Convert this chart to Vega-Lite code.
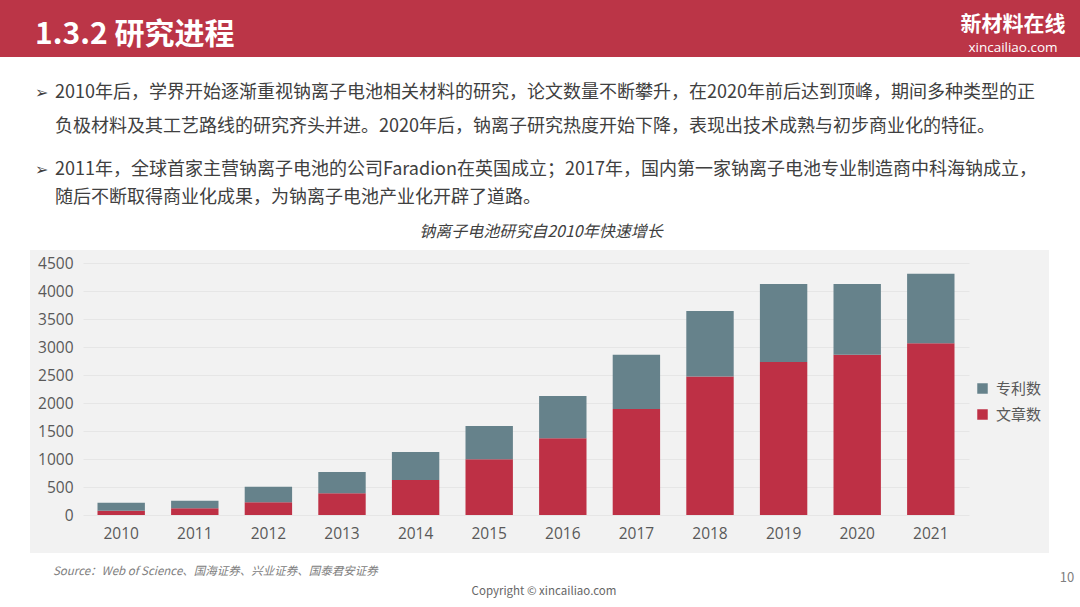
{
  "$schema": "https://vega.github.io/schema/vega-lite/v6.json",
  "width": 886,
  "height": 252,
  "autosize": {"type": "none"},
  "padding": {"left": 83, "top": 263, "right": 111, "bottom": 92},
  "background": "#F2F2F2",
  "datasets": {
    "research": [
      {"year": "2010", "type": "文章数", "count": 77},
      {"year": "2010", "type": "专利数", "count": 143},
      {"year": "2011", "type": "文章数", "count": 120},
      {"year": "2011", "type": "专利数", "count": 136},
      {"year": "2012", "type": "文章数", "count": 227},
      {"year": "2012", "type": "专利数", "count": 279},
      {"year": "2013", "type": "文章数", "count": 388},
      {"year": "2013", "type": "专利数", "count": 381},
      {"year": "2014", "type": "文章数", "count": 626},
      {"year": "2014", "type": "专利数", "count": 500},
      {"year": "2015", "type": "文章数", "count": 996},
      {"year": "2015", "type": "专利数", "count": 595},
      {"year": "2016", "type": "文章数", "count": 1371},
      {"year": "2016", "type": "专利数", "count": 756},
      {"year": "2017", "type": "文章数", "count": 1895},
      {"year": "2017", "type": "专利数", "count": 965},
      {"year": "2018", "type": "文章数", "count": 2472},
      {"year": "2018", "type": "专利数", "count": 1169},
      {"year": "2019", "type": "文章数", "count": 2730},
      {"year": "2019", "type": "专利数", "count": 1394},
      {"year": "2020", "type": "文章数", "count": 2860},
      {"year": "2020", "type": "专利数", "count": 1264},
      {"year": "2021", "type": "文章数", "count": 3069},
      {"year": "2021", "type": "专利数", "count": 1239}
    ],
    "one": [{}]
  },
  "layer": [
    {
      "data": {"name": "one"},
      "mark": {"type": "rect", "x": -83, "x2": 997, "y": -263, "y2": -13, "fill": "white"}
    },
    {
      "data": {"name": "one"},
      "mark": {"type": "rect", "x": -83, "x2": 997, "y": 290, "y2": 344, "fill": "white"}
    },
    {
      "data": {"name": "one"},
      "mark": {"type": "rect", "x": -83, "x2": -53, "y": -13, "y2": 290, "fill": "white"}
    },
    {
      "data": {"name": "one"},
      "mark": {"type": "rect", "x": 966, "x2": 997, "y": -13, "y2": 290, "fill": "white"}
    },
    {
      "data": {"name": "one"},
      "mark": {"type": "rect", "x": -83, "x2": 997, "y": -263, "y2": -206, "fill": "#BB3547"}
    },
    {
      "data": {"name": "one"},
      "mark": {"type": "text", "x": -48, "y": -228, "text": "1.3.2 研究进程", "align": "left", "baseline": "middle",
        "font": "Noto Sans CJK SC", "fontSize": 30, "fontWeight": "bold", "color": "white"}
    },
    {
      "data": {"name": "one"},
      "mark": {"type": "text", "x": 930, "y": -238, "text": "新材料在线", "align": "center", "baseline": "middle",
        "font": "Noto Sans CJK SC", "fontSize": 21, "fontWeight": "bold", "color": "white"}
    },
    {
      "data": {"name": "one"},
      "mark": {"type": "text", "x": 930, "y": -215, "text": "xincailiao.com", "align": "center", "baseline": "middle",
        "font": "Open Sans", "fontSize": 13.5, "color": "white"}
    },
    {
      "data": {"name": "one"},
      "mark": {"type": "text", "x": -48, "y": -170, "text": "➢", "align": "left", "baseline": "middle",
        "font": "DejaVu Sans", "fontSize": 16, "color": "#404040"}
    },
    {
      "data": {"name": "one"},
      "mark": {"type": "text", "x": -28, "y": -170, "text": "2010年后，学界开始逐渐重视钠离子电池相关材料的研究，论文数量不断攀升，在2020年前后达到顶峰，期间多种类型的正",
        "align": "left", "baseline": "middle", "font": "Noto Sans CJK SC", "fontSize": 18, "color": "#404040"}
    },
    {
      "data": {"name": "one"},
      "mark": {"type": "text", "x": -28, "y": -136, "text": "负极材料及其工艺路线的研究齐头并进。2020年后，钠离子研究热度开始下降，表现出技术成熟与初步商业化的特征。",
        "align": "left", "baseline": "middle", "font": "Noto Sans CJK SC", "fontSize": 18, "color": "#404040"}
    },
    {
      "data": {"name": "one"},
      "mark": {"type": "text", "x": -48, "y": -93, "text": "➢", "align": "left", "baseline": "middle",
        "font": "DejaVu Sans", "fontSize": 16, "color": "#404040"}
    },
    {
      "data": {"name": "one"},
      "mark": {"type": "text", "x": -28, "y": -93, "text": "2011年，全球首家主营钠离子电池的公司Faradion在英国成立；2017年，国内第一家钠离子电池专业制造商中科海钠成立，",
        "align": "left", "baseline": "middle", "font": "Noto Sans CJK SC", "fontSize": 18, "color": "#404040"}
    },
    {
      "data": {"name": "one"},
      "mark": {"type": "text", "x": -28, "y": -65, "text": "随后不断取得商业化成果，为钠离子电池产业化开辟了道路。",
        "align": "left", "baseline": "middle", "font": "Noto Sans CJK SC", "fontSize": 18, "color": "#404040"}
    },
    {
      "data": {"name": "one"},
      "mark": {"type": "text", "x": 458, "y": -31, "text": "钠离子电池研究自2010年快速增长", "align": "center", "baseline": "middle",
        "font": "Noto Sans CJK SC", "fontSize": 16, "fontStyle": "italic", "color": "#404040"}
    },
    {
      "data": {"name": "one"},
      "mark": {"type": "text", "x": -30, "y": 309, "text": "Source：Web of Science、国海证券、兴业证券、国泰君安证券", "align": "left", "baseline": "middle",
        "font": "Noto Sans CJK SC", "fontSize": 11.5, "fontStyle": "italic", "color": "#808080"}
    },
    {
      "data": {"name": "one"},
      "mark": {"type": "text", "x": 461, "y": 329, "text": "Copyright © xincailiao.com", "align": "center", "baseline": "middle",
        "font": "Noto Sans CJK SC", "fontSize": 11.5, "color": "#666666"}
    },
    {
      "data": {"name": "one"},
      "mark": {"type": "text", "x": 984, "y": 315, "text": "10", "align": "center", "baseline": "middle",
        "font": "Noto Sans CJK SC", "fontSize": 13, "color": "#808080"}
    },
    {
      "data": {"name": "research"},
      "mark": {"type": "bar"},
      "encoding": {
        "x": {
          "field": "year",
          "type": "ordinal",
          "scale": {"paddingInner": 0.356, "paddingOuter": 0.197},
          "axis": {"title": null, "labelAngle": 0, "domain": false, "ticks": false, "grid": false,
            "labelPadding": 11, "labelFont": "Open Sans", "labelFontSize": 15.5, "labelColor": "#595959"}
        },
        "y": {
          "field": "count",
          "type": "quantitative",
          "stack": "zero",
          "scale": {"domain": [0, 4500], "nice": false},
          "axis": {"title": null, "values": [0, 500, 1000, 1500, 2000, 2500, 3000, 3500, 4000, 4500], "format": "d",
            "domain": false, "ticks": false, "labelPadding": 10, "labelFont": "Open Sans", "labelFontSize": 15.5,
            "labelColor": "#595959", "gridColor": "#E6E6E6", "gridWidth": 1}
        },
        "color": {
          "field": "type",
          "type": "nominal",
          "scale": {"domain": ["专利数", "文章数"], "range": ["#66828B", "#BE3045"]},
          "legend": {"title": null, "orient": "none", "legendX": 892, "legendY": 118, "padding": 0,
            "symbolType": "square", "symbolSize": 110, "symbolStrokeWidth": 0, "rowPadding": 10, "labelOffset": 6,
            "labelFont": "Noto Sans CJK SC", "labelFontSize": 15, "labelColor": "#595959"}
        },
        "order": {"field": "type", "sort": "descending"}
      }
    }
  ],
  "config": {
    "view": {"stroke": null}
  }
}
